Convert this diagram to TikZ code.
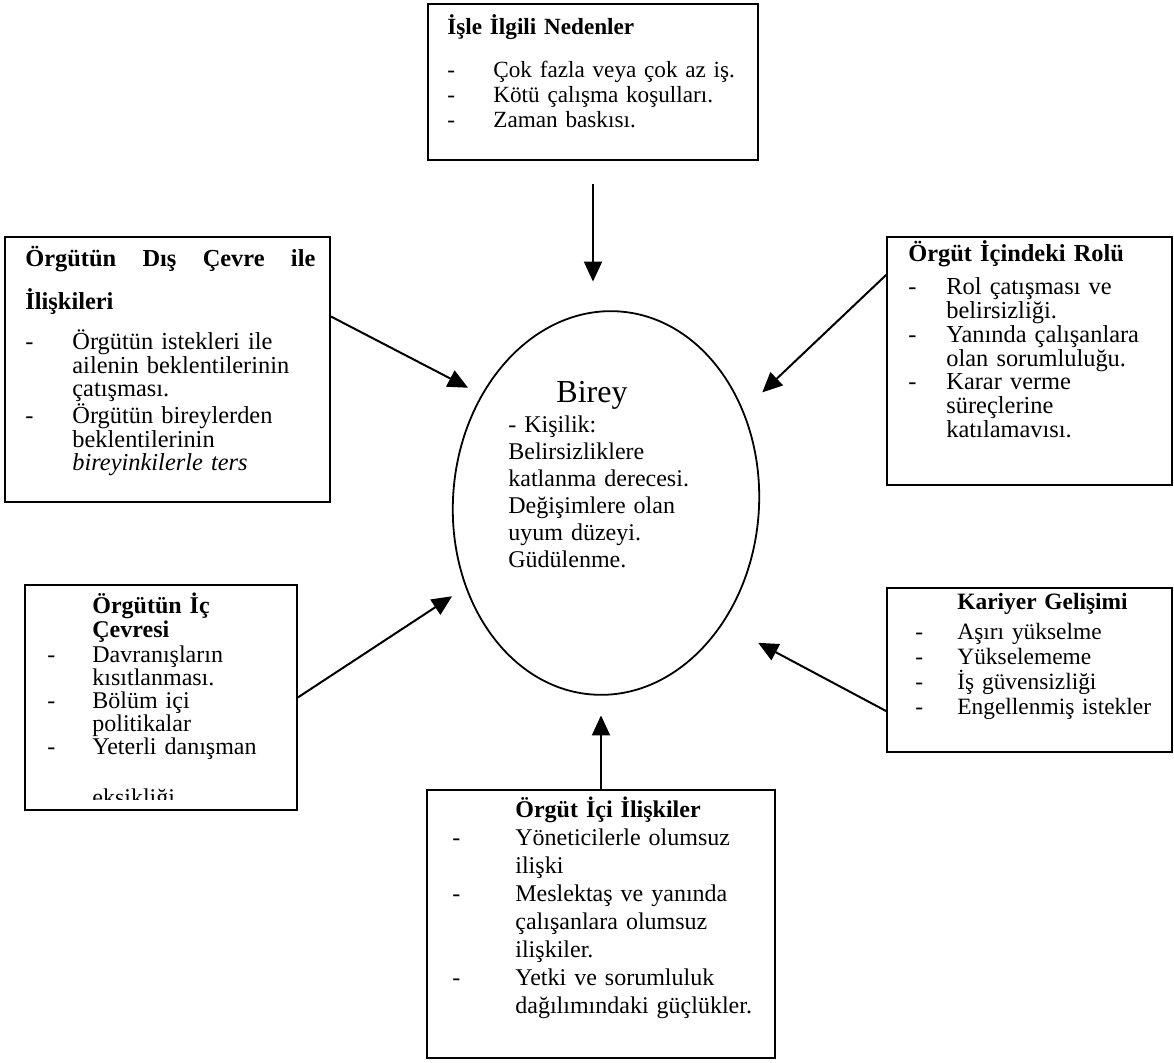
\documentclass[tikz,border=0pt]{standalone}
\usepackage{fontspec}
\setmainfont{Liberation Serif}
\usetikzlibrary{shapes.geometric, arrows.meta}
\newcommand{\tire}[1]{\makebox[#1][l]{-}}
\newcommand{\bosluk}[1]{\hspace*{#1}}

\begin{document}
\begin{tikzpicture}[x=0.5pt, y=-0.5pt]

\tikzset{ kutu/.style={draw, line width=0.8pt, inner sep=0pt},
  yazi/.style={anchor=base west, align=left, inner sep=0pt, text width=#1},
  satir/.style 2 args={font=\fontsize{#1}{#2}\selectfont},
  ok/.style={line width=1pt, -{Triangle[length=10pt, width=9pt]}}
}

\useasboundingbox (0,0) rectangle (1174,1063);

% Boxes
\node[kutu, minimum width=165pt, minimum height=78pt] (neden) at (593,82) {};
\node[kutu, minimum width=162.5pt, minimum height=132.5pt] (dis) at (167.5,369.5) {};
\node[kutu, minimum width=142.5pt, minimum height=124pt] (rol) at (1029.5,361) {};
\node[kutu, minimum width=136pt, minimum height=112.5pt] (ic) at (161,697.5) {};
\node[kutu, minimum width=142.5pt, minimum height=82pt] (kariyer) at (1029.5,670) {};
\node[kutu, minimum width=174pt, minimum height=134pt] (ici) at (601,924) {};

% Individual
\node[draw, ellipse, line width=0.9pt, minimum width=153pt, minimum height=192pt,
  rotate=-4] (birey) at (606,503) {};
\node[anchor=base, inner sep=0pt, font=\fontsize{16pt}{16pt}\selectfont] (bireybaslik) at (592,403) {Birey};
\node[yazi=100pt, satir={12pt}{13.5pt}] (bireyyazi) at (508,433)
  {- Kişilik:\\ Belirsizliklere\\ katlanma derecesi.\\ Değişimlere olan\\ uyum düzeyi.\\ Güdülenme.};

% Texts in the boxes
\node[yazi=150pt, satir={11.6pt}{12.5pt}] (nedenyazi) at (447,35)
  {\textbf{İşle İlgili Nedenler}\\[9pt]
   \tire{23pt}Çok fazla veya çok az iş.\\
   \tire{23pt}Kötü çalışma koşulları.\\
   \tire{23pt}Zaman baskısı.};

\node[yazi=150pt, satir={12.2pt}{11.8pt}] (disyazi) at (25,267)
  {\makebox[145pt][l]{\textbf{Örgütün}\hfill\textbf{Dış}\hfill\textbf{Çevre}\hfill\textbf{ile}}\\[7.2pt]
   \textbf{İlişkileri}\\[6.5pt]
   \tire{23.5pt}Örgütün istekleri ile\\
   \bosluk{23.5pt}ailenin beklentilerinin\\
   \bosluk{23.5pt}çatışması.\\
   \tire{23.5pt}Örgütün bireylerden\\
   \bosluk{23.5pt}beklentilerinin\\
   \bosluk{23.5pt}\textit{bireyinkilerle ters}};

\node[yazi=135pt, satir={12.2pt}{11.9pt}] (rolyazi) at (908,262)
  {\textbf{Örgüt İçindeki Rolü}\\[4.5pt]
   \tire{19pt}Rol çatışması ve\\
   \bosluk{19pt}belirsizliği.\\
   \tire{19pt}Yanında çalışanlara\\
   \bosluk{19pt}olan sorumluluğu.\\
   \tire{19pt}Karar verme\\
   \bosluk{19pt}süreçlerine\\
   \bosluk{19pt}katılamavısı.};

\node[yazi=120pt, satir={12pt}{11.5pt}] (icyazi) at (47,614)
  {\bosluk{22.5pt}\textbf{Örgütün İç}\\[0.5pt]
   \bosluk{22.5pt}\textbf{Çevresi}\\[1pt]
   \tire{22.5pt}Davranışların\\
   \bosluk{22.5pt}kısıtlanması.\\
   \tire{22.5pt}Bölüm içi\\
   \bosluk{22.5pt}politikalar\\
   \tire{22.5pt}Yeterli danışman};
\begin{scope}
  \clip (25,585) rectangle (297,800);
  \node[anchor=base west, inner sep=0pt, satir={12pt}{12pt}] (eksik) at (92,806) {eksikliği};
\end{scope}

\node[yazi=135pt, satir={11.7pt}{12.5pt}] (kariyeryazi) at (915,610)
  {\bosluk{21pt}\textbf{Kariyer Gelişimi}\\[2.5pt]
   \tire{21pt}Aşırı yükselme\\
   \tire{21pt}Yükselememe\\
   \tire{21pt}İş güvensizliği\\
   \tire{21pt}Engellenmiş istekler};

\node[yazi=165pt, satir={12pt}{14pt}] (iciyazi) at (452,818)
  {\bosluk{31.5pt}\textbf{Örgüt İçi İlişkiler}\\
   \tire{31.5pt}Yöneticilerle olumsuz\\
   \bosluk{31.5pt}ilişki\\
   \tire{31.5pt}Meslektaş ve yanında\\
   \bosluk{31.5pt}çalışanlara olumsuz\\
   \bosluk{31.5pt}ilişkiler.\\
   \tire{31.5pt}Yetki ve sorumluluk\\
   \bosluk{31.5pt}dağılımındaki güçlükler.};

% Arrows
\draw[ok, shorten <=11.5pt, shorten >=14.5pt] (neden.south) -- (neden.south |- birey.north);
\draw[ok, shorten >=7.5pt] (dis.18.5) -- (birey.143);
\draw[ok, shorten >=13pt] (rol.149) -- (birey.38.5);
\draw[ok, shorten >=8pt] (ic.east) -- (birey.215.7);
\draw[ok, shorten >=20pt] (kariyer.196.7) -- (birey.318);
\draw[ok, shorten >=10pt] (ici.north) -- (ici.north |- birey.south);

\end{tikzpicture}
\end{document}
